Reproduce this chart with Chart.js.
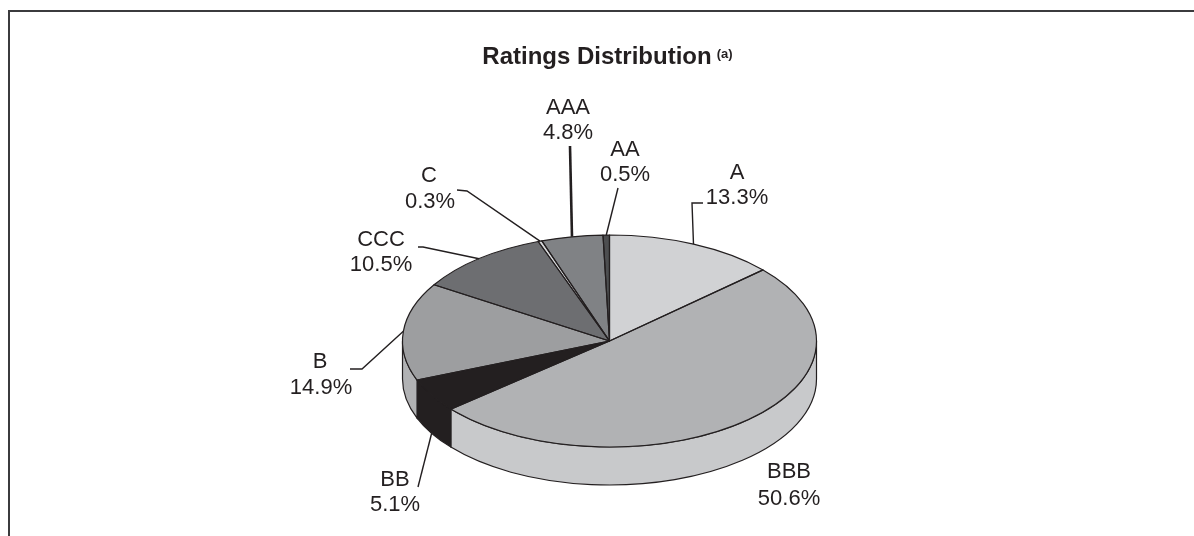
<!DOCTYPE html>
<html>
<head>
<meta charset="utf-8">
<title>Ratings Distribution</title>
<script src="https://cdn.jsdelivr.net/npm/chart.js@4.4.0/dist/chart.umd.min.js"></script>
<style>
  html, body { margin: 0; padding: 0; background: #fff; }
  canvas { display: block; }
</style>
</head>
<body>
<canvas id="ratingsChart" width="1194" height="536"></canvas>
<script>
const ratings = ['A', 'BBB', 'BB', 'B', 'CCC', 'C', 'AAA', 'AA'];
const shares = [13.3, 50.6, 5.1, 14.9, 10.5, 0.3, 4.8, 0.5];
const topColors = ['#d1d2d4', '#b1b2b4', '#231f20', '#9d9ea0', '#6d6e71', '#d6d7d9', '#808285', '#4d4e50'];
const sideColors = ['#dcdddf', '#c8c9cb', '#231f20', '#b1b2b4', '#87888b', '#e0e0e0', '#97989b', '#6d6e71'];

// pie placement on the page
const pieX = 609.5, pieY = 341, pieR = 207;
const tilt = 106 / 207;   // vertical squash of the top face
const depth = 38;         // height of the side wall
const ink = '#231f20';
const fontFamily = "'Liberation Sans', Arial, Helvetica, sans-serif";

// label anchors and the bend points of each leader line
const labelLayout = {
  A:   { name: [737, 173], pct: [737, 198], leader: [[703, 203], [692, 203]] },
  BBB: { name: [789, 472], pct: [789, 499], leader: null },
  BB:  { name: [395, 480], pct: [395, 505], leader: [[418, 487]] },
  B:   { name: [320, 362], pct: [321, 388], leader: [[350, 369], [362, 369]] },
  CCC: { name: [381, 240], pct: [381, 265], leader: [[418, 247], [423, 247]] },
  C:   { name: [429, 176], pct: [430, 202], leader: [[457, 190], [467, 191]] },
  AAA: { name: [568, 108], pct: [568, 133], leader: [[570, 146]], width: 2.6 },
  AA:  { name: [625, 150], pct: [625, 175], leader: [[618, 188]] }
};

function squash(ctx, arc) {
  ctx.translate(pieX, pieY);
  ctx.scale(1, tilt);
  ctx.translate(-arc.x, -arc.y);
}

const framePlugin = {
  id: 'frame',
  beforeDraw(chart) {
    const ctx = chart.ctx;
    ctx.save();
    ctx.fillStyle = '#fff';
    ctx.fillRect(0, 0, chart.width, chart.height);
    ctx.strokeStyle = '#3b3b3d';
    ctx.lineWidth = 2;
    ctx.beginPath();
    ctx.moveTo(9, chart.height);
    ctx.lineTo(9, 11);
    ctx.lineTo(chart.width, 11);
    ctx.stroke();
    ctx.restore();
  }
};

// side wall under the front half, tilted top face, then outlines
const pie3dPlugin = {
  id: 'pie3d',
  beforeDatasetDraw(chart, args) {
    const ctx = chart.ctx;
    const arcs = chart.getDatasetMeta(args.index).data;
    ctx.save();
    ctx.strokeStyle = ink;
    ctx.lineWidth = 1.2;
    arcs.forEach((arc, i) => {
      const a = Math.max(arc.startAngle, 0);
      const b = Math.min(arc.endAngle, Math.PI);
      if (a >= b) return;
      ctx.beginPath();
      ctx.ellipse(pieX, pieY, pieR, pieR * tilt, 0, a, b);
      ctx.lineTo(pieX + pieR * Math.cos(b), pieY + pieR * tilt * Math.sin(b) + depth);
      ctx.ellipse(pieX, pieY + depth, pieR, pieR * tilt, 0, b, a, true);
      ctx.closePath();
      ctx.fillStyle = sideColors[i];
      ctx.fill();
      ctx.stroke();
    });
    ctx.restore();
    ctx.save();
    squash(ctx, arcs[0]);
  },
  afterDatasetDraw(chart, args) {
    const ctx = chart.ctx;
    ctx.restore();
    const arcs = chart.getDatasetMeta(args.index).data;
    ctx.save();
    ctx.strokeStyle = ink;
    ctx.lineWidth = 1.2;
    ctx.lineJoin = 'round';
    arcs.forEach(arc => {
      ctx.save();
      squash(ctx, arc);
      ctx.beginPath();
      ctx.moveTo(arc.x, arc.y);
      ctx.arc(arc.x, arc.y, arc.outerRadius, arc.startAngle, arc.endAngle);
      ctx.closePath();
      ctx.restore();
      ctx.stroke();
    });
    ctx.restore();
  }
};

const labelPlugin = {
  id: 'sliceLabels',
  afterDraw(chart) {
    const ctx = chart.ctx;
    const arcs = chart.getDatasetMeta(0).data;
    ctx.save();
    ctx.fillStyle = ink;
    ctx.strokeStyle = ink;
    ctx.font = '22px ' + fontFamily;
    ctx.textAlign = 'center';
    ctx.textBaseline = 'middle';
    arcs.forEach((arc, i) => {
      const lay = labelLayout[ratings[i]];
      ctx.fillText(ratings[i], lay.name[0], lay.name[1]);
      ctx.fillText(shares[i].toFixed(1) + '%', lay.pct[0], lay.pct[1]);
      if (!lay.leader) return;
      const mid = (arc.startAngle + arc.endAngle) / 2;
      const ex = pieX + pieR * Math.cos(mid);
      let ey = pieY + pieR * tilt * Math.sin(mid);
      if (Math.sin(mid) > 0) ey += depth;
      ctx.lineWidth = lay.width || 1.4;
      ctx.beginPath();
      lay.leader.forEach((p, j) => (j ? ctx.lineTo(p[0], p[1]) : ctx.moveTo(p[0], p[1])));
      ctx.lineTo(ex, ey);
      ctx.stroke();
    });

    // superscript note marker after the title
    const tb = chart.titleBlock;
    ctx.font = 'bold 24px ' + fontFamily;
    const w = ctx.measureText(chart.options.plugins.title.text).width;
    ctx.font = 'bold 13px ' + fontFamily;
    ctx.textAlign = 'left';
    ctx.fillText('(a)', (tb.left + tb.right) / 2 + w / 2 + 5, 54);
    ctx.restore();
  }
};

new Chart(document.getElementById('ratingsChart'), {
  type: 'pie',
  data: {
    labels: ratings,
    datasets: [{
      data: shares,
      backgroundColor: topColors,
      borderWidth: 0,
      radius: pieR,
      clip: false
    }]
  },
  options: {
    responsive: false,
    animation: false,
    events: [],
    plugins: {
      legend: { display: false },
      tooltip: { enabled: false },
      title: {
        display: true,
        text: 'Ratings Distribution',
        color: ink,
        font: { family: fontFamily, size: 24, weight: 'bold' },
        padding: { top: 43, bottom: 10 }
      }
    }
  },
  plugins: [framePlugin, pie3dPlugin, labelPlugin]
});
</script>
</body>
</html>
